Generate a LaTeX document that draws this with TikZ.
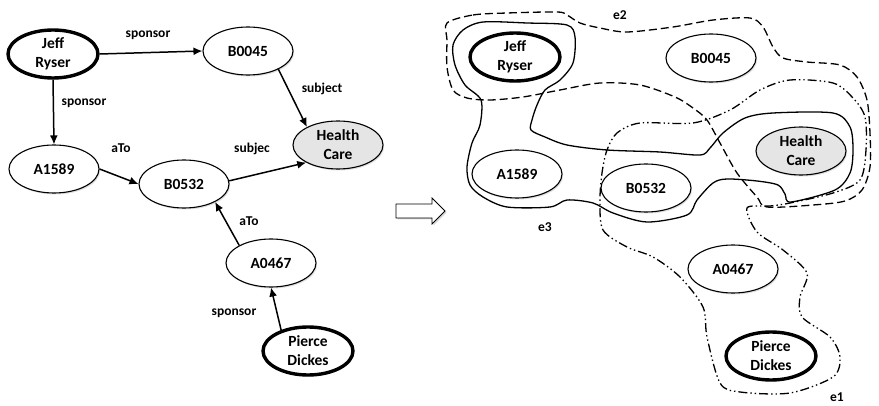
\documentclass[tikz,border=0pt]{standalone}
\usepackage{fontspec}
\setmainfont{Carlito}
\usetikzlibrary{shapes.geometric,arrows.meta,shadows}
\begin{document}
\begin{tikzpicture}[x=1pt,y=-1pt,
  ent/.style={ellipse,draw,line width=1.1pt,fill=white,minimum width=90pt,minimum height=48pt,inner sep=0pt,align=center,font=\fontsize{15.5}{19}\selectfont\bfseries,
     drop shadow={shadow xshift=1.2pt,shadow yshift=-1.5pt,opacity=0.25}},
  thickent/.style={ent,line width=3.4pt},
  grayent/.style={ent,fill=black!10},
  lbl/.style={font=\fontsize{13.5}{14}\selectfont\bfseries,inner sep=0pt},
  rel/.style={line width=1.5pt,-{Latex[length=9pt,width=8pt]}},
  hyp/.style={line width=1.3pt,line join=round},
  e1pat/.style={hyp,dash pattern=on 9pt off 3pt on 1.4pt off 3pt on 1.4pt off 3pt},
  e2pat/.style={hyp,dash pattern=on 8pt off 4pt}]
\useasboundingbox (0,0) rectangle (879,406);

% ---------------- left graph ----------------
\node[thickent] (jL) at (53,54) {Jeff\\Ryser};
\node[ent] (b45L) at (248,51) {B0045};
\node[grayent] (hcL) at (338,145) {Health\\Care};
\node[ent] (a89L) at (54,169) {A1589};
\node[ent] (b32L) at (184,184) {B0532};
\node[ent] (a67L) at (271,263) {A0467};
\node[thickent] (pdL) at (308,351) {Pierce\\Dickes};

\draw[rel] (jL.east) -- (b45L.west);
\draw[rel] (jL.south) -- (a89L.north);
\draw[rel] (b45L.-31) -- (hcL.150);
\draw[rel] (a89L.east) -- (b32L.west);
\draw[rel] (b32L.4) -- (hcL.209);
\draw[rel] (a67L.151) -- (b32L.-30);
\draw[rel] (pdL.142) -- (a67L.south);

\node[lbl] (l1) at (148,35) {sponsor};
\node[lbl] (l2) at (84,103) {sponsor};
\node[lbl] (l3) at (322,89) {subject};
\node[lbl] (l4) at (121,148) {aTo};
\node[lbl] (l5) at (252,149) {subjec};
\node[lbl] (l6) at (249,221) {aTo};
\node[lbl] (l7) at (234,313) {sponsor};

% ---------------- block arrow ----------------
\draw[line width=0.8pt,fill=white,line join=miter,
      drop shadow={shadow xshift=1.5pt,shadow yshift=-1.5pt,opacity=0.3}]
  (396,204) -- (432,204) -- (432,198) -- (445,211) -- (432,224) -- (432,218) -- (396,218) -- cycle;

% ---------------- right graph: hyperedges ----------------
% e3 (solid)
\draw[hyp] plot[smooth cycle,tension=0.5] coordinates {
  (463,30) (483,22) (527,23) (567,25) (575,37) (573,63) (560,80) (545,90) (537,105)
  (532,120) (531,130) (545,137) (567,145) (607,150) (660,152) (700,155) (710,148)
  (723,133) (745,118) (773,113) (833,113) (850,127) (853,150) (850,173) (835,190)
  (791,202) (785,194) (778,185) (757,181) (727,179) (713,183) (697,200) (687,215)
  (647,222) (613,213) (593,203) (567,200) (550,207) (507,207) (483,197) (470,185)
  (467,167) (472,143) (480,125) (481,100) (465,85) (455,65) (453,45)};
% e2 (dashed)
\draw[e2pat] plot[smooth cycle,tension=0.5] coordinates {
  (447,23) (473,15) (507,13) (557,12) (567,15) (580,23) (600,28) (627,32) (673,27)
  (713,20) (750,18) (763,27) (773,47) (783,58) (807,62) (840,65) (857,77) (867,100)
  (870,133) (870,167) (862,190) (845,201) (813,205) (767,207) (757,197) (737,173)
  (720,143) (707,120) (693,108) (675,97) (640,85) (600,83) (560,90) (523,97)
  (490,100) (467,98) (453,90) (447,67) (447,40)};
% e1 (dash dot dot)
\draw[e1pat] plot[smooth cycle,tension=0.5] coordinates {
  (600,200) (603,230) (627,247) (653,257) (680,277) (703,307) (707,337) (720,383)
  (740,392) (790,393) (833,377) (840,357) (830,337) (802,317) (800,297) (807,273)
  (783,250) (757,232) (747,208) (770,206) (790,203) (833,193) (860,180) (866,150)
  (865,117) (853,98) (833,83) (790,80) (760,90) (730,110) (693,123) (640,123)
  (617,133) (607,150) (602,173)};

% ---------------- right graph: entities ----------------
\node[thickent] (jR) at (515,57) {Jeff\\Ryser};
\node[ent] (b45R) at (711,58) {B0045};
\node[grayent] (hcR) at (801,151) {Health\\Care};
\node[ent] (a89R) at (517,174) {A1589};
\node[ent] (b32R) at (646,188) {B0532};
\node[ent] (a67R) at (733,269) {A0467};
\node[thickent] (pdR) at (771,356) {Pierce\\Dickes};

\node[lbl] (e2) at (620,15) {e2};
\node[lbl] (e3) at (545,227) {e3};
\node[lbl] (e1) at (837,397) {e1};
\end{tikzpicture}
\end{document}
